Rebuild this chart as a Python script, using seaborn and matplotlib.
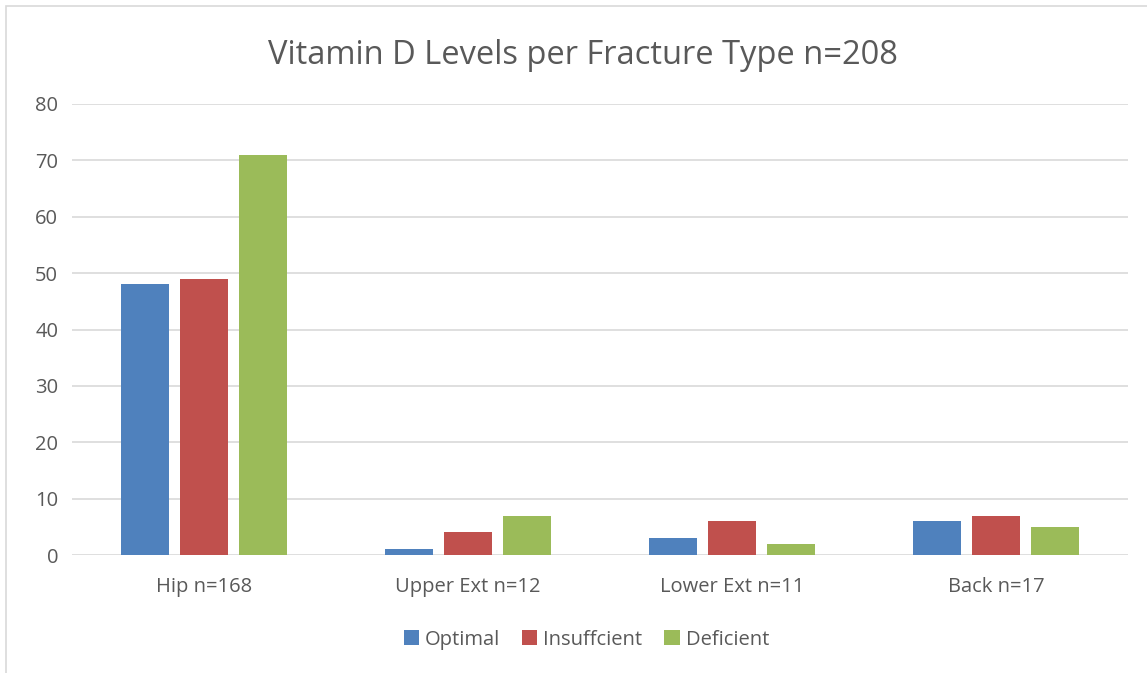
import pandas as pd
import seaborn as sns
import matplotlib.pyplot as plt
from matplotlib.patches import Rectangle

# Chart data
fracture_types = ['Hip n=168', 'Upper Ext n=12', 'Lower Ext n=11', 'Back n=17']
levels = ['Optimal', 'Insuffcient', 'Deficient']
optimal = [48, 1, 3, 6]
insufficient = [49, 4, 6, 7]
deficient = [71, 7, 2, 5]
colors = ['#4F81BD', '#C0504D', '#9BBB59']

df = pd.DataFrame({
    'type': fracture_types * 3,
    'level': [levels[0]] * 4 + [levels[1]] * 4 + [levels[2]] * 4,
    'count': optimal + insufficient + deficient,
})

sns.set_style('white')
plt.rcParams['font.family'] = ['Open Sans', 'DejaVu Sans']
text_color = '#595959'

fig = plt.figure(figsize=(11.47, 6.73), dpi=100)
ax = fig.add_axes([0.0628, 0.1753, 0.9206, 0.6702])

sns.barplot(data=df, x='type', y='count', hue='level', palette=colors,
            width=0.67, gap=0.2, ax=ax, saturation=1, zorder=3, linewidth=0)

ax.set_ylim(0, 80)
ax.set_yticks(range(0, 81, 10))
ax.set_xlim(-0.5, 3.5)
ax.grid(axis='y', color='#D9D9D9', linewidth=1.2, zorder=0)
for s in ax.spines.values():
    s.set_visible(False)
ax.tick_params(axis='both', length=0, labelsize=14.5, colors=text_color)
ax.tick_params(axis='x', pad=16)
ax.tick_params(axis='y', pad=10)
ax.set_xlabel('')
ax.set_ylabel('')

ax.legend(loc='center', bbox_to_anchor=(0.487, -0.188), ncol=3, frameon=False,
          fontsize=14.5, handlelength=0.75, handleheight=0.75, handletextpad=0.3,
          columnspacing=1.1, labelcolor=text_color)

fig.suptitle('Vitamin D Levels per Fracture Type n=208', x=0.508, y=0.942,
             fontsize=23.5, color=text_color)

# chart border (left/top visible, cropped on right/bottom)
fig.patches.append(Rectangle((6 / 1147, -0.1), 1.2, 1 - 6 / 673 + 0.1,
                             transform=fig.transFigure, fill=False,
                             edgecolor='#D9D9D9', linewidth=1.2))

fig.savefig('out.png', dpi=100)
